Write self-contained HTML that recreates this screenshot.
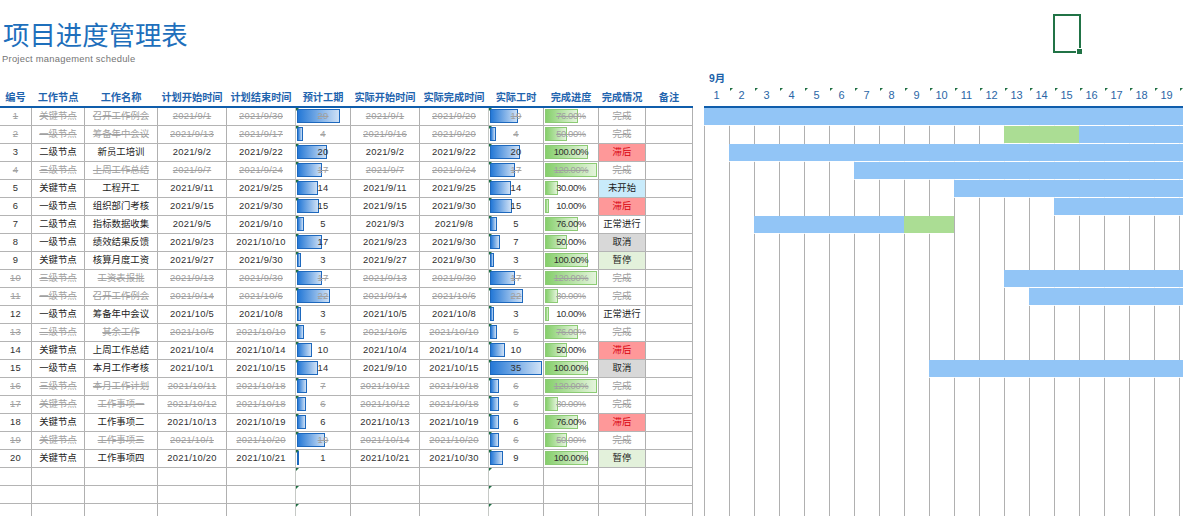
<!DOCTYPE html>
<html lang="zh-CN"><head><meta charset="utf-8"><title>项目进度管理表</title>
<style>
html,body{margin:0;padding:0;background:#fff;}
body{width:1183px;height:516px;position:relative;overflow:hidden;font-family:"Liberation Sans","Noto Sans CJK SC",sans-serif;}
.a{position:absolute;}
.title{left:3px;top:16px;font-size:26.4px;line-height:40px;color:#1e6fbc;font-weight:400;white-space:nowrap;letter-spacing:0px;}
.sub{left:2px;top:53px;font-size:9.4px;line-height:12px;color:#757575;white-space:nowrap;letter-spacing:0.25px;}
.h{top:90px;height:15px;line-height:15px;font-size:10.2px;font-weight:bold;color:#1f64ae;text-align:center;white-space:nowrap;}
.c{height:17px;line-height:16px;font-size:9.4px;color:#303030;text-align:center;white-space:nowrap;letter-spacing:0.25px;}
.c.z{letter-spacing:0;color:#1c1c1c;}
.c.p{letter-spacing:-0.35px;}
.c.s{color:#a0a0a0;text-decoration:line-through;}
.vl{width:1px;background:#b0b0b0;}
.hl{height:1px;background:#b4b4b4;}
.hb{height:2px;background:#0f5dab;}
.pb{height:12px;border:1px solid #1d68bd;background:linear-gradient(90deg,#2478d6 0%,#cfe1f6 100%);box-sizing:content-box;}
.gb{height:12px;border:1px solid #8ccb74;background:linear-gradient(90deg,#86cf6c 0%,#e4f4dc 100%);box-sizing:content-box;}
.t{width:0;height:0;border-top:3px solid #1e6f43;border-right:3px solid transparent;}
.bb{background:#92c5f6;}
.bg{background:#abdd94;}
.d{top:88px;height:15px;line-height:15px;font-size:11px;color:#2b66a6;text-align:center;width:25px;}
</style></head><body>

<div class="a title">项目进度管理表</div>
<div class="a sub">Project management schedule</div>
<div class="a" style="left:1053px;top:14px;width:24px;height:35px;border:2px solid #217346;"></div>
<div class="a" style="left:1077px;top:50px;width:5px;height:5px;background:#217346;border:1px solid #fff;margin:-2px 0 0 -1px;"></div>
<div class="a h" style="left:0px;width:31px">编号</div>
<div class="a h" style="left:32px;width:52px">工作节点</div>
<div class="a h" style="left:85px;width:72px">工作名称</div>
<div class="a h" style="left:158px;width:68px">计划开始时间</div>
<div class="a h" style="left:227px;width:68px">计划结束时间</div>
<div class="a h" style="left:296px;width:54px">预计工期</div>
<div class="a h" style="left:351px;width:68px">实际开始时间</div>
<div class="a h" style="left:420px;width:68px">实际完成时间</div>
<div class="a h" style="left:489px;width:54px">实际工时</div>
<div class="a h" style="left:544px;width:54px">完成进度</div>
<div class="a h" style="left:599px;width:46px">完成情况</div>
<div class="a h" style="left:646px;width:46px">备注</div>
<div class="a hb" style="left:0;top:106px;width:693px"></div>
<div class="a hb" style="left:704px;top:106px;width:479px"></div>
<div class="a vl" style="left:31px;top:108px;height:408px"></div>
<div class="a vl" style="left:84px;top:108px;height:408px"></div>
<div class="a vl" style="left:157px;top:108px;height:408px"></div>
<div class="a vl" style="left:226px;top:108px;height:408px"></div>
<div class="a vl" style="left:295px;top:108px;height:408px;background:#c6c9c6"></div>
<div class="a vl" style="left:350px;top:108px;height:408px"></div>
<div class="a vl" style="left:419px;top:108px;height:408px"></div>
<div class="a vl" style="left:488px;top:108px;height:408px;background:#c6c9c6"></div>
<div class="a vl" style="left:543px;top:108px;height:408px"></div>
<div class="a vl" style="left:598px;top:108px;height:408px"></div>
<div class="a vl" style="left:645px;top:108px;height:408px"></div>
<div class="a vl" style="left:692px;top:108px;height:408px"></div>
<div class="a hl" style="left:0;top:125px;width:693px"></div>
<div class="a hl" style="left:0;top:143px;width:693px"></div>
<div class="a hl" style="left:0;top:161px;width:693px"></div>
<div class="a hl" style="left:0;top:179px;width:693px"></div>
<div class="a hl" style="left:0;top:197px;width:693px"></div>
<div class="a hl" style="left:0;top:215px;width:693px"></div>
<div class="a hl" style="left:0;top:233px;width:693px"></div>
<div class="a hl" style="left:0;top:251px;width:693px"></div>
<div class="a hl" style="left:0;top:269px;width:693px"></div>
<div class="a hl" style="left:0;top:287px;width:693px"></div>
<div class="a hl" style="left:0;top:305px;width:693px"></div>
<div class="a hl" style="left:0;top:323px;width:693px"></div>
<div class="a hl" style="left:0;top:341px;width:693px"></div>
<div class="a hl" style="left:0;top:359px;width:693px"></div>
<div class="a hl" style="left:0;top:377px;width:693px"></div>
<div class="a hl" style="left:0;top:395px;width:693px"></div>
<div class="a hl" style="left:0;top:413px;width:693px"></div>
<div class="a hl" style="left:0;top:431px;width:693px"></div>
<div class="a hl" style="left:0;top:449px;width:693px"></div>
<div class="a hl" style="left:0;top:467px;width:693px"></div>
<div class="a hl" style="left:0;top:485px;width:693px"></div>
<div class="a hl" style="left:0;top:503px;width:693px"></div>
<div class="a" style="left:709px;top:72px;font-size:10.4px;line-height:14px;font-weight:bold;color:#1b5fa9;">9月</div>
<div class="a vl" style="left:704px;top:108px;height:408px"></div>
<div class="a d" style="left:704px">1</div>
<div class="a vl" style="left:729px;top:108px;height:408px"></div>
<div class="a d" style="left:729px">2</div>
<div class="a t" style="left:730px;top:88px"></div>
<div class="a vl" style="left:754px;top:108px;height:408px"></div>
<div class="a d" style="left:754px">3</div>
<div class="a t" style="left:755px;top:88px"></div>
<div class="a vl" style="left:779px;top:108px;height:408px"></div>
<div class="a d" style="left:779px">4</div>
<div class="a t" style="left:780px;top:88px"></div>
<div class="a vl" style="left:804px;top:108px;height:408px"></div>
<div class="a d" style="left:804px">5</div>
<div class="a t" style="left:805px;top:88px"></div>
<div class="a vl" style="left:829px;top:108px;height:408px"></div>
<div class="a d" style="left:829px">6</div>
<div class="a t" style="left:830px;top:88px"></div>
<div class="a vl" style="left:854px;top:108px;height:408px"></div>
<div class="a d" style="left:854px">7</div>
<div class="a t" style="left:855px;top:88px"></div>
<div class="a vl" style="left:879px;top:108px;height:408px"></div>
<div class="a d" style="left:879px">8</div>
<div class="a t" style="left:880px;top:88px"></div>
<div class="a vl" style="left:904px;top:108px;height:408px"></div>
<div class="a d" style="left:904px">9</div>
<div class="a t" style="left:905px;top:88px"></div>
<div class="a vl" style="left:929px;top:108px;height:408px"></div>
<div class="a d" style="left:929px">10</div>
<div class="a t" style="left:930px;top:88px"></div>
<div class="a vl" style="left:954px;top:108px;height:408px"></div>
<div class="a d" style="left:954px">11</div>
<div class="a t" style="left:955px;top:88px"></div>
<div class="a vl" style="left:979px;top:108px;height:408px"></div>
<div class="a d" style="left:979px">12</div>
<div class="a t" style="left:980px;top:88px"></div>
<div class="a vl" style="left:1004px;top:108px;height:408px"></div>
<div class="a d" style="left:1004px">13</div>
<div class="a t" style="left:1005px;top:88px"></div>
<div class="a vl" style="left:1029px;top:108px;height:408px"></div>
<div class="a d" style="left:1029px">14</div>
<div class="a t" style="left:1030px;top:88px"></div>
<div class="a vl" style="left:1054px;top:108px;height:408px"></div>
<div class="a d" style="left:1054px">15</div>
<div class="a t" style="left:1055px;top:88px"></div>
<div class="a vl" style="left:1079px;top:108px;height:408px"></div>
<div class="a d" style="left:1079px">16</div>
<div class="a t" style="left:1080px;top:88px"></div>
<div class="a vl" style="left:1104px;top:108px;height:408px"></div>
<div class="a d" style="left:1104px">17</div>
<div class="a t" style="left:1105px;top:88px"></div>
<div class="a vl" style="left:1129px;top:108px;height:408px"></div>
<div class="a d" style="left:1129px">18</div>
<div class="a t" style="left:1130px;top:88px"></div>
<div class="a vl" style="left:1154px;top:108px;height:408px"></div>
<div class="a d" style="left:1154px">19</div>
<div class="a t" style="left:1155px;top:88px"></div>
<div class="a vl" style="left:1179px;top:108px;height:408px"></div>
<div class="a t" style="left:1180px;top:88px"></div>
<div class="a bb" style="left:704px;top:108px;width:479px;height:17px"></div>
<div class="a" style="left:704px;top:125px;width:479px;height:1px;background:rgba(255,255,255,0.85)"></div>
<div class="a bg" style="left:1004px;top:126px;width:75px;height:17px"></div>
<div class="a" style="left:1004px;top:143px;width:75px;height:1px;background:rgba(255,255,255,0.85)"></div>
<div class="a bb" style="left:1079px;top:126px;width:104px;height:17px"></div>
<div class="a" style="left:1079px;top:143px;width:104px;height:1px;background:rgba(255,255,255,0.85)"></div>
<div class="a bb" style="left:729px;top:144px;width:454px;height:17px"></div>
<div class="a" style="left:729px;top:161px;width:454px;height:1px;background:rgba(255,255,255,0.85)"></div>
<div class="a bb" style="left:854px;top:162px;width:329px;height:17px"></div>
<div class="a" style="left:854px;top:179px;width:329px;height:1px;background:rgba(255,255,255,0.85)"></div>
<div class="a bb" style="left:954px;top:180px;width:229px;height:17px"></div>
<div class="a" style="left:954px;top:197px;width:229px;height:1px;background:rgba(255,255,255,0.85)"></div>
<div class="a bb" style="left:1054px;top:198px;width:129px;height:17px"></div>
<div class="a" style="left:1054px;top:215px;width:129px;height:1px;background:rgba(255,255,255,0.85)"></div>
<div class="a bb" style="left:754px;top:216px;width:150px;height:17px"></div>
<div class="a" style="left:754px;top:233px;width:150px;height:1px;background:rgba(255,255,255,0.85)"></div>
<div class="a bg" style="left:904px;top:216px;width:50px;height:17px"></div>
<div class="a" style="left:904px;top:233px;width:50px;height:1px;background:rgba(255,255,255,0.85)"></div>
<div class="a bb" style="left:1004px;top:270px;width:179px;height:17px"></div>
<div class="a" style="left:1004px;top:287px;width:179px;height:1px;background:rgba(255,255,255,0.85)"></div>
<div class="a bb" style="left:1029px;top:288px;width:154px;height:17px"></div>
<div class="a" style="left:1029px;top:305px;width:154px;height:1px;background:rgba(255,255,255,0.85)"></div>
<div class="a bb" style="left:929px;top:360px;width:254px;height:17px"></div>
<div class="a" style="left:929px;top:377px;width:254px;height:1px;background:rgba(255,255,255,0.85)"></div>
<div class="a c s" style="left:0px;top:108px;width:31px">1</div>
<div class="a c s z" style="left:32px;top:108px;width:52px">关键节点</div>
<div class="a c s z" style="left:85px;top:108px;width:72px">召开工作例会</div>
<div class="a c s" style="left:158px;top:108px;width:68px">2021/9/1</div>
<div class="a c s" style="left:227px;top:108px;width:68px">2021/9/30</div>
<div class="a pb" style="left:297px;top:109px;width:41px"></div>
<div class="a c s" style="left:296px;top:108px;width:54px">29</div>
<div class="a c s" style="left:351px;top:108px;width:68px">2021/9/1</div>
<div class="a c s" style="left:420px;top:108px;width:68px">2021/9/20</div>
<div class="a pb" style="left:490px;top:109px;width:26px"></div>
<div class="a c s" style="left:489px;top:108px;width:54px">19</div>
<div class="a gb" style="left:545px;top:109px;width:31px"></div>
<div class="a c s p" style="left:544px;top:108px;width:54px">76.00%</div>
<div class="a c s z" style="left:599px;top:108px;width:46px">完成</div>
<div class="a c s" style="left:0px;top:126px;width:31px">2</div>
<div class="a c s z" style="left:32px;top:126px;width:52px">一级节点</div>
<div class="a c s z" style="left:85px;top:126px;width:72px">筹备年中会议</div>
<div class="a c s" style="left:158px;top:126px;width:68px">2021/9/13</div>
<div class="a c s" style="left:227px;top:126px;width:68px">2021/9/17</div>
<div class="a pb" style="left:297px;top:127px;width:4px"></div>
<div class="a c s" style="left:296px;top:126px;width:54px">4</div>
<div class="a c s" style="left:351px;top:126px;width:68px">2021/9/16</div>
<div class="a c s" style="left:420px;top:126px;width:68px">2021/9/20</div>
<div class="a pb" style="left:490px;top:127px;width:4px"></div>
<div class="a c s" style="left:489px;top:126px;width:54px">4</div>
<div class="a gb" style="left:545px;top:127px;width:20px"></div>
<div class="a c s p" style="left:544px;top:126px;width:54px">50.00%</div>
<div class="a c s z" style="left:599px;top:126px;width:46px">完成</div>
<div class="a c" style="left:0px;top:144px;width:31px">3</div>
<div class="a c z" style="left:32px;top:144px;width:52px">二级节点</div>
<div class="a c z" style="left:85px;top:144px;width:72px">新员工培训</div>
<div class="a c" style="left:158px;top:144px;width:68px">2021/9/2</div>
<div class="a c" style="left:227px;top:144px;width:68px">2021/9/22</div>
<div class="a pb" style="left:297px;top:145px;width:28px"></div>
<div class="a c" style="left:296px;top:144px;width:54px">20</div>
<div class="a c" style="left:351px;top:144px;width:68px">2021/9/2</div>
<div class="a c" style="left:420px;top:144px;width:68px">2021/9/22</div>
<div class="a pb" style="left:490px;top:145px;width:28px"></div>
<div class="a c" style="left:489px;top:144px;width:54px">20</div>
<div class="a gb" style="left:545px;top:145px;width:41px"></div>
<div class="a c p" style="left:544px;top:144px;width:54px">100.00%</div>
<div class="a" style="left:599px;top:144px;width:46px;height:17px;background:#fe9899"></div>
<div class="a c z" style="left:599px;top:144px;width:46px;color:#d8000c">滞后</div>
<div class="a c s" style="left:0px;top:162px;width:31px">4</div>
<div class="a c s z" style="left:32px;top:162px;width:52px">三级节点</div>
<div class="a c s z" style="left:85px;top:162px;width:72px">上周工作总结</div>
<div class="a c s" style="left:158px;top:162px;width:68px">2021/9/7</div>
<div class="a c s" style="left:227px;top:162px;width:68px">2021/9/24</div>
<div class="a pb" style="left:297px;top:163px;width:23px"></div>
<div class="a c s" style="left:296px;top:162px;width:54px">17</div>
<div class="a c s" style="left:351px;top:162px;width:68px">2021/9/7</div>
<div class="a c s" style="left:420px;top:162px;width:68px">2021/9/24</div>
<div class="a pb" style="left:490px;top:163px;width:23px"></div>
<div class="a c s" style="left:489px;top:162px;width:54px">17</div>
<div class="a gb" style="left:545px;top:163px;width:50px"></div>
<div class="a c s p" style="left:544px;top:162px;width:54px">120.00%</div>
<div class="a c s z" style="left:599px;top:162px;width:46px">完成</div>
<div class="a c" style="left:0px;top:180px;width:31px">5</div>
<div class="a c z" style="left:32px;top:180px;width:52px">关键节点</div>
<div class="a c z" style="left:85px;top:180px;width:72px">工程开工</div>
<div class="a c" style="left:158px;top:180px;width:68px">2021/9/11</div>
<div class="a c" style="left:227px;top:180px;width:68px">2021/9/25</div>
<div class="a pb" style="left:297px;top:181px;width:19px"></div>
<div class="a c" style="left:296px;top:180px;width:54px">14</div>
<div class="a c" style="left:351px;top:180px;width:68px">2021/9/11</div>
<div class="a c" style="left:420px;top:180px;width:68px">2021/9/25</div>
<div class="a pb" style="left:490px;top:181px;width:19px"></div>
<div class="a c" style="left:489px;top:180px;width:54px">14</div>
<div class="a gb" style="left:545px;top:181px;width:11px"></div>
<div class="a c p" style="left:544px;top:180px;width:54px">30.00%</div>
<div class="a" style="left:599px;top:180px;width:46px;height:17px;background:#c9ebfb"></div>
<div class="a c z" style="left:599px;top:180px;width:46px">未开始</div>
<div class="a c" style="left:0px;top:198px;width:31px">6</div>
<div class="a c z" style="left:32px;top:198px;width:52px">一级节点</div>
<div class="a c z" style="left:85px;top:198px;width:72px">组织部门考核</div>
<div class="a c" style="left:158px;top:198px;width:68px">2021/9/15</div>
<div class="a c" style="left:227px;top:198px;width:68px">2021/9/30</div>
<div class="a pb" style="left:297px;top:199px;width:20px"></div>
<div class="a c" style="left:296px;top:198px;width:54px">15</div>
<div class="a c" style="left:351px;top:198px;width:68px">2021/9/15</div>
<div class="a c" style="left:420px;top:198px;width:68px">2021/9/30</div>
<div class="a pb" style="left:490px;top:199px;width:20px"></div>
<div class="a c" style="left:489px;top:198px;width:54px">15</div>
<div class="a gb" style="left:545px;top:199px;width:2px"></div>
<div class="a c p" style="left:544px;top:198px;width:54px">10.00%</div>
<div class="a" style="left:599px;top:198px;width:46px;height:17px;background:#fe9899"></div>
<div class="a c z" style="left:599px;top:198px;width:46px;color:#d8000c">滞后</div>
<div class="a c" style="left:0px;top:216px;width:31px">7</div>
<div class="a c z" style="left:32px;top:216px;width:52px">二级节点</div>
<div class="a c z" style="left:85px;top:216px;width:72px">指标数据收集</div>
<div class="a c" style="left:158px;top:216px;width:68px">2021/9/5</div>
<div class="a c" style="left:227px;top:216px;width:68px">2021/9/10</div>
<div class="a pb" style="left:297px;top:217px;width:5px"></div>
<div class="a c" style="left:296px;top:216px;width:54px">5</div>
<div class="a c" style="left:351px;top:216px;width:68px">2021/9/3</div>
<div class="a c" style="left:420px;top:216px;width:68px">2021/9/8</div>
<div class="a pb" style="left:490px;top:217px;width:5px"></div>
<div class="a c" style="left:489px;top:216px;width:54px">5</div>
<div class="a gb" style="left:545px;top:217px;width:31px"></div>
<div class="a c p" style="left:544px;top:216px;width:54px">76.00%</div>
<div class="a c z" style="left:599px;top:216px;width:46px">正常进行</div>
<div class="a c" style="left:0px;top:234px;width:31px">8</div>
<div class="a c z" style="left:32px;top:234px;width:52px">一级节点</div>
<div class="a c z" style="left:85px;top:234px;width:72px">绩效结果反馈</div>
<div class="a c" style="left:158px;top:234px;width:68px">2021/9/23</div>
<div class="a c" style="left:227px;top:234px;width:68px">2021/10/10</div>
<div class="a pb" style="left:297px;top:235px;width:23px"></div>
<div class="a c" style="left:296px;top:234px;width:54px">17</div>
<div class="a c" style="left:351px;top:234px;width:68px">2021/9/23</div>
<div class="a c" style="left:420px;top:234px;width:68px">2021/9/30</div>
<div class="a pb" style="left:490px;top:235px;width:8px"></div>
<div class="a c" style="left:489px;top:234px;width:54px">7</div>
<div class="a gb" style="left:545px;top:235px;width:20px"></div>
<div class="a c p" style="left:544px;top:234px;width:54px">50.00%</div>
<div class="a" style="left:599px;top:234px;width:46px;height:17px;background:#d8d8d8"></div>
<div class="a c z" style="left:599px;top:234px;width:46px">取消</div>
<div class="a c" style="left:0px;top:252px;width:31px">9</div>
<div class="a c z" style="left:32px;top:252px;width:52px">关键节点</div>
<div class="a c z" style="left:85px;top:252px;width:72px">核算月度工资</div>
<div class="a c" style="left:158px;top:252px;width:68px">2021/9/27</div>
<div class="a c" style="left:227px;top:252px;width:68px">2021/9/30</div>
<div class="a pb" style="left:297px;top:253px;width:2px"></div>
<div class="a c" style="left:296px;top:252px;width:54px">3</div>
<div class="a c" style="left:351px;top:252px;width:68px">2021/9/27</div>
<div class="a c" style="left:420px;top:252px;width:68px">2021/9/30</div>
<div class="a pb" style="left:490px;top:253px;width:2px"></div>
<div class="a c" style="left:489px;top:252px;width:54px">3</div>
<div class="a gb" style="left:545px;top:253px;width:41px"></div>
<div class="a c p" style="left:544px;top:252px;width:54px">100.00%</div>
<div class="a" style="left:599px;top:252px;width:46px;height:17px;background:#e3f1db"></div>
<div class="a c z" style="left:599px;top:252px;width:46px">暂停</div>
<div class="a c s" style="left:0px;top:270px;width:31px">10</div>
<div class="a c s z" style="left:32px;top:270px;width:52px">三级节点</div>
<div class="a c s z" style="left:85px;top:270px;width:72px">工资表报批</div>
<div class="a c s" style="left:158px;top:270px;width:68px">2021/9/13</div>
<div class="a c s" style="left:227px;top:270px;width:68px">2021/9/30</div>
<div class="a pb" style="left:297px;top:271px;width:23px"></div>
<div class="a c s" style="left:296px;top:270px;width:54px">17</div>
<div class="a c s" style="left:351px;top:270px;width:68px">2021/9/13</div>
<div class="a c s" style="left:420px;top:270px;width:68px">2021/9/30</div>
<div class="a pb" style="left:490px;top:271px;width:23px"></div>
<div class="a c s" style="left:489px;top:270px;width:54px">17</div>
<div class="a gb" style="left:545px;top:271px;width:50px"></div>
<div class="a c s p" style="left:544px;top:270px;width:54px">120.00%</div>
<div class="a c s z" style="left:599px;top:270px;width:46px">完成</div>
<div class="a c s" style="left:0px;top:288px;width:31px">11</div>
<div class="a c s z" style="left:32px;top:288px;width:52px">一级节点</div>
<div class="a c s z" style="left:85px;top:288px;width:72px">召开工作例会</div>
<div class="a c s" style="left:158px;top:288px;width:68px">2021/9/14</div>
<div class="a c s" style="left:227px;top:288px;width:68px">2021/10/6</div>
<div class="a pb" style="left:297px;top:289px;width:31px"></div>
<div class="a c s" style="left:296px;top:288px;width:54px">22</div>
<div class="a c s" style="left:351px;top:288px;width:68px">2021/9/14</div>
<div class="a c s" style="left:420px;top:288px;width:68px">2021/10/6</div>
<div class="a pb" style="left:490px;top:289px;width:31px"></div>
<div class="a c s" style="left:489px;top:288px;width:54px">22</div>
<div class="a gb" style="left:545px;top:289px;width:11px"></div>
<div class="a c s p" style="left:544px;top:288px;width:54px">30.00%</div>
<div class="a c s z" style="left:599px;top:288px;width:46px">完成</div>
<div class="a c" style="left:0px;top:306px;width:31px">12</div>
<div class="a c z" style="left:32px;top:306px;width:52px">一级节点</div>
<div class="a c z" style="left:85px;top:306px;width:72px">筹备年中会议</div>
<div class="a c" style="left:158px;top:306px;width:68px">2021/10/5</div>
<div class="a c" style="left:227px;top:306px;width:68px">2021/10/8</div>
<div class="a pb" style="left:297px;top:307px;width:2px"></div>
<div class="a c" style="left:296px;top:306px;width:54px">3</div>
<div class="a c" style="left:351px;top:306px;width:68px">2021/10/5</div>
<div class="a c" style="left:420px;top:306px;width:68px">2021/10/8</div>
<div class="a pb" style="left:490px;top:307px;width:2px"></div>
<div class="a c" style="left:489px;top:306px;width:54px">3</div>
<div class="a gb" style="left:545px;top:307px;width:2px"></div>
<div class="a c p" style="left:544px;top:306px;width:54px">10.00%</div>
<div class="a c z" style="left:599px;top:306px;width:46px">正常进行</div>
<div class="a c s" style="left:0px;top:324px;width:31px">13</div>
<div class="a c s z" style="left:32px;top:324px;width:52px">二级节点</div>
<div class="a c s z" style="left:85px;top:324px;width:72px">其余工作</div>
<div class="a c s" style="left:158px;top:324px;width:68px">2021/10/5</div>
<div class="a c s" style="left:227px;top:324px;width:68px">2021/10/10</div>
<div class="a pb" style="left:297px;top:325px;width:5px"></div>
<div class="a c s" style="left:296px;top:324px;width:54px">5</div>
<div class="a c s" style="left:351px;top:324px;width:68px">2021/10/5</div>
<div class="a c s" style="left:420px;top:324px;width:68px">2021/10/10</div>
<div class="a pb" style="left:490px;top:325px;width:5px"></div>
<div class="a c s" style="left:489px;top:324px;width:54px">5</div>
<div class="a gb" style="left:545px;top:325px;width:31px"></div>
<div class="a c s p" style="left:544px;top:324px;width:54px">76.00%</div>
<div class="a c s z" style="left:599px;top:324px;width:46px">完成</div>
<div class="a c" style="left:0px;top:342px;width:31px">14</div>
<div class="a c z" style="left:32px;top:342px;width:52px">关键节点</div>
<div class="a c z" style="left:85px;top:342px;width:72px">上周工作总结</div>
<div class="a c" style="left:158px;top:342px;width:68px">2021/10/4</div>
<div class="a c" style="left:227px;top:342px;width:68px">2021/10/14</div>
<div class="a pb" style="left:297px;top:343px;width:13px"></div>
<div class="a c" style="left:296px;top:342px;width:54px">10</div>
<div class="a c" style="left:351px;top:342px;width:68px">2021/10/4</div>
<div class="a c" style="left:420px;top:342px;width:68px">2021/10/14</div>
<div class="a pb" style="left:490px;top:343px;width:13px"></div>
<div class="a c" style="left:489px;top:342px;width:54px">10</div>
<div class="a gb" style="left:545px;top:343px;width:20px"></div>
<div class="a c p" style="left:544px;top:342px;width:54px">50.00%</div>
<div class="a" style="left:599px;top:342px;width:46px;height:17px;background:#fe9899"></div>
<div class="a c z" style="left:599px;top:342px;width:46px;color:#d8000c">滞后</div>
<div class="a c" style="left:0px;top:360px;width:31px">15</div>
<div class="a c z" style="left:32px;top:360px;width:52px">一级节点</div>
<div class="a c z" style="left:85px;top:360px;width:72px">本月工作考核</div>
<div class="a c" style="left:158px;top:360px;width:68px">2021/10/1</div>
<div class="a c" style="left:227px;top:360px;width:68px">2021/10/15</div>
<div class="a pb" style="left:297px;top:361px;width:19px"></div>
<div class="a c" style="left:296px;top:360px;width:54px">14</div>
<div class="a c" style="left:351px;top:360px;width:68px">2021/9/10</div>
<div class="a c" style="left:420px;top:360px;width:68px">2021/10/15</div>
<div class="a pb" style="left:490px;top:361px;width:50px"></div>
<div class="a c" style="left:489px;top:360px;width:54px">35</div>
<div class="a gb" style="left:545px;top:361px;width:41px"></div>
<div class="a c p" style="left:544px;top:360px;width:54px">100.00%</div>
<div class="a" style="left:599px;top:360px;width:46px;height:17px;background:#d8d8d8"></div>
<div class="a c z" style="left:599px;top:360px;width:46px">取消</div>
<div class="a c s" style="left:0px;top:378px;width:31px">16</div>
<div class="a c s z" style="left:32px;top:378px;width:52px">三级节点</div>
<div class="a c s z" style="left:85px;top:378px;width:72px">本月工作计划</div>
<div class="a c s" style="left:158px;top:378px;width:68px">2021/10/11</div>
<div class="a c s" style="left:227px;top:378px;width:68px">2021/10/18</div>
<div class="a pb" style="left:297px;top:379px;width:8px"></div>
<div class="a c s" style="left:296px;top:378px;width:54px">7</div>
<div class="a c s" style="left:351px;top:378px;width:68px">2021/10/12</div>
<div class="a c s" style="left:420px;top:378px;width:68px">2021/10/18</div>
<div class="a pb" style="left:490px;top:379px;width:7px"></div>
<div class="a c s" style="left:489px;top:378px;width:54px">6</div>
<div class="a gb" style="left:545px;top:379px;width:50px"></div>
<div class="a c s p" style="left:544px;top:378px;width:54px">120.00%</div>
<div class="a c s z" style="left:599px;top:378px;width:46px">完成</div>
<div class="a c s" style="left:0px;top:396px;width:31px">17</div>
<div class="a c s z" style="left:32px;top:396px;width:52px">关键节点</div>
<div class="a c s z" style="left:85px;top:396px;width:72px">工作事项一</div>
<div class="a c s" style="left:158px;top:396px;width:68px">2021/10/12</div>
<div class="a c s" style="left:227px;top:396px;width:68px">2021/10/18</div>
<div class="a pb" style="left:297px;top:397px;width:7px"></div>
<div class="a c s" style="left:296px;top:396px;width:54px">6</div>
<div class="a c s" style="left:351px;top:396px;width:68px">2021/10/12</div>
<div class="a c s" style="left:420px;top:396px;width:68px">2021/10/18</div>
<div class="a pb" style="left:490px;top:397px;width:7px"></div>
<div class="a c s" style="left:489px;top:396px;width:54px">6</div>
<div class="a gb" style="left:545px;top:397px;width:11px"></div>
<div class="a c s p" style="left:544px;top:396px;width:54px">30.00%</div>
<div class="a c s z" style="left:599px;top:396px;width:46px">完成</div>
<div class="a c" style="left:0px;top:414px;width:31px">18</div>
<div class="a c z" style="left:32px;top:414px;width:52px">关键节点</div>
<div class="a c z" style="left:85px;top:414px;width:72px">工作事项二</div>
<div class="a c" style="left:158px;top:414px;width:68px">2021/10/13</div>
<div class="a c" style="left:227px;top:414px;width:68px">2021/10/19</div>
<div class="a pb" style="left:297px;top:415px;width:7px"></div>
<div class="a c" style="left:296px;top:414px;width:54px">6</div>
<div class="a c" style="left:351px;top:414px;width:68px">2021/10/13</div>
<div class="a c" style="left:420px;top:414px;width:68px">2021/10/19</div>
<div class="a pb" style="left:490px;top:415px;width:7px"></div>
<div class="a c" style="left:489px;top:414px;width:54px">6</div>
<div class="a gb" style="left:545px;top:415px;width:31px"></div>
<div class="a c p" style="left:544px;top:414px;width:54px">76.00%</div>
<div class="a" style="left:599px;top:414px;width:46px;height:17px;background:#fe9899"></div>
<div class="a c z" style="left:599px;top:414px;width:46px;color:#d8000c">滞后</div>
<div class="a c s" style="left:0px;top:432px;width:31px">19</div>
<div class="a c s z" style="left:32px;top:432px;width:52px">关键节点</div>
<div class="a c s z" style="left:85px;top:432px;width:72px">工作事项三</div>
<div class="a c s" style="left:158px;top:432px;width:68px">2021/10/1</div>
<div class="a c s" style="left:227px;top:432px;width:68px">2021/10/20</div>
<div class="a pb" style="left:297px;top:433px;width:26px"></div>
<div class="a c s" style="left:296px;top:432px;width:54px">19</div>
<div class="a c s" style="left:351px;top:432px;width:68px">2021/10/14</div>
<div class="a c s" style="left:420px;top:432px;width:68px">2021/10/20</div>
<div class="a pb" style="left:490px;top:433px;width:7px"></div>
<div class="a c s" style="left:489px;top:432px;width:54px">6</div>
<div class="a gb" style="left:545px;top:433px;width:20px"></div>
<div class="a c s p" style="left:544px;top:432px;width:54px">50.00%</div>
<div class="a c s z" style="left:599px;top:432px;width:46px">完成</div>
<div class="a c" style="left:0px;top:450px;width:31px">20</div>
<div class="a c z" style="left:32px;top:450px;width:52px">关键节点</div>
<div class="a c z" style="left:85px;top:450px;width:72px">工作事项四</div>
<div class="a c" style="left:158px;top:450px;width:68px">2021/10/20</div>
<div class="a c" style="left:227px;top:450px;width:68px">2021/10/21</div>
<div class="a pb" style="left:297px;top:451px;width:0px"></div>
<div class="a c" style="left:296px;top:450px;width:54px">1</div>
<div class="a c" style="left:351px;top:450px;width:68px">2021/10/21</div>
<div class="a c" style="left:420px;top:450px;width:68px">2021/10/30</div>
<div class="a pb" style="left:490px;top:451px;width:11px"></div>
<div class="a c" style="left:489px;top:450px;width:54px">9</div>
<div class="a gb" style="left:545px;top:451px;width:41px"></div>
<div class="a c p" style="left:544px;top:450px;width:54px">100.00%</div>
<div class="a" style="left:599px;top:450px;width:46px;height:17px;background:#e3f1db"></div>
<div class="a c z" style="left:599px;top:450px;width:46px">暂停</div>
<div class="a t" style="left:296px;top:108px"></div>
<div class="a t" style="left:489px;top:108px"></div>
<div class="a t" style="left:296px;top:126px"></div>
<div class="a t" style="left:489px;top:126px"></div>
<div class="a t" style="left:296px;top:144px"></div>
<div class="a t" style="left:489px;top:144px"></div>
<div class="a t" style="left:296px;top:162px"></div>
<div class="a t" style="left:489px;top:162px"></div>
<div class="a t" style="left:296px;top:180px"></div>
<div class="a t" style="left:489px;top:180px"></div>
<div class="a t" style="left:296px;top:198px"></div>
<div class="a t" style="left:489px;top:198px"></div>
<div class="a t" style="left:296px;top:216px"></div>
<div class="a t" style="left:489px;top:216px"></div>
<div class="a t" style="left:296px;top:234px"></div>
<div class="a t" style="left:489px;top:234px"></div>
<div class="a t" style="left:296px;top:252px"></div>
<div class="a t" style="left:489px;top:252px"></div>
<div class="a t" style="left:296px;top:270px"></div>
<div class="a t" style="left:489px;top:270px"></div>
<div class="a t" style="left:296px;top:288px"></div>
<div class="a t" style="left:489px;top:288px"></div>
<div class="a t" style="left:296px;top:306px"></div>
<div class="a t" style="left:489px;top:306px"></div>
<div class="a t" style="left:296px;top:324px"></div>
<div class="a t" style="left:489px;top:324px"></div>
<div class="a t" style="left:296px;top:342px"></div>
<div class="a t" style="left:489px;top:342px"></div>
<div class="a t" style="left:296px;top:360px"></div>
<div class="a t" style="left:489px;top:360px"></div>
<div class="a t" style="left:296px;top:378px"></div>
<div class="a t" style="left:489px;top:378px"></div>
<div class="a t" style="left:296px;top:396px"></div>
<div class="a t" style="left:489px;top:396px"></div>
<div class="a t" style="left:296px;top:414px"></div>
<div class="a t" style="left:489px;top:414px"></div>
<div class="a t" style="left:296px;top:432px"></div>
<div class="a t" style="left:489px;top:432px"></div>
<div class="a t" style="left:296px;top:450px"></div>
<div class="a t" style="left:489px;top:450px"></div>
<div class="a t" style="left:296px;top:468px"></div>
<div class="a t" style="left:489px;top:468px"></div>
<div class="a t" style="left:296px;top:486px"></div>
<div class="a t" style="left:489px;top:486px"></div>
<div class="a t" style="left:296px;top:504px"></div>
<div class="a t" style="left:489px;top:504px"></div>
</body></html>
